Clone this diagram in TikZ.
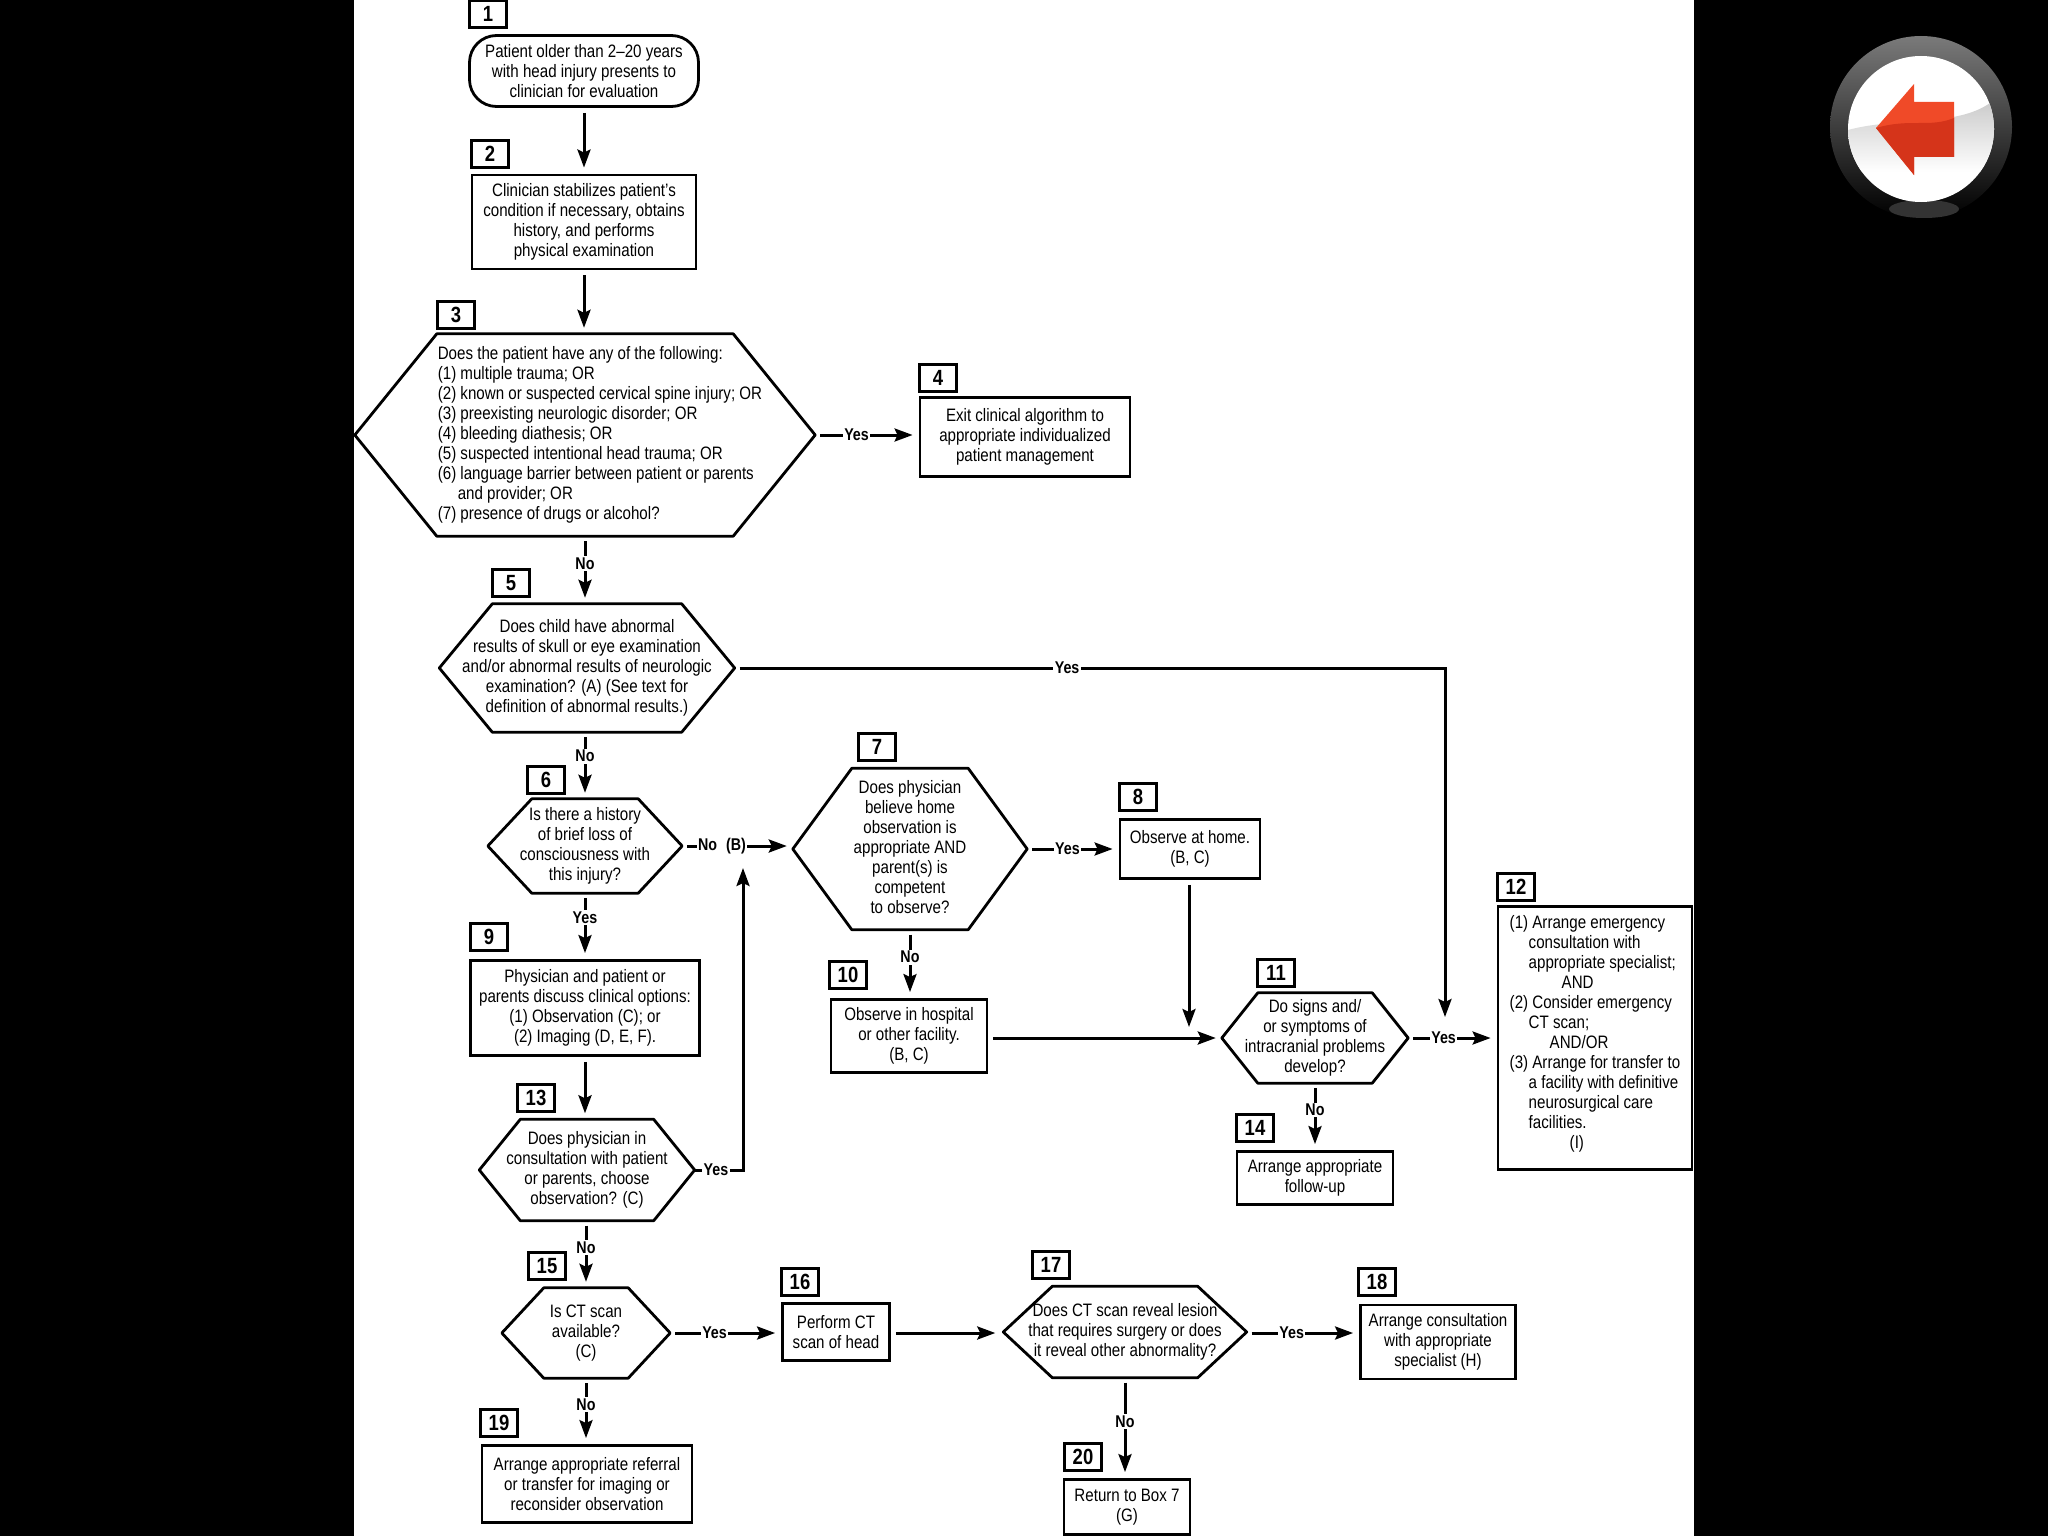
\documentclass[tikz,border=0pt]{standalone}
\usepackage{fontspec}
\setmainfont[FakeStretch=0.84]{Liberation Sans}
\usetikzlibrary{arrows.meta,calc}
\definecolor{btnring}{HTML}{7a7a7a}
\definecolor{btnringmid}{HTML}{505050}
\definecolor{btngloss}{HTML}{cacaca}
\definecolor{btnshadow}{HTML}{333333}
\definecolor{btnarrow}{HTML}{f04a28}
\definecolor{btnarrowlow}{HTML}{d5341a}
\tikzset{
  flowbox/.style={draw,line width=2.8pt,align=center,inner sep=0pt,font=\fontsize{18}{20}\selectfont},
  startbox/.style={flowbox,rounded corners=27pt},
  hexbox/.style={align=center,inner sep=0pt,font=\fontsize{18}{20}\selectfont,
    append after command={\pgfextra{\draw[line width=2.8pt,line join=round]
      ($(\tikzlastnode.north west)+(#1,0)$) -- ($(\tikzlastnode.north east)+(-#1,0)$) --
      (\tikzlastnode.east) -- ($(\tikzlastnode.south east)+(-#1,0)$) --
      ($(\tikzlastnode.south west)+(#1,0)$) -- (\tikzlastnode.west) -- cycle;}}},
  numbox/.style={draw,line width=3pt,fill=white,inner sep=0pt,minimum width=37pt,minimum height=27pt,
    font=\fontsize{22}{22}\selectfont\bfseries},
  flowline/.style={line width=3pt,shorten <=5pt,shorten >=6pt,-{Stealth[length=18pt,width=13pt,inset=3pt]}},
  flowlabel/.style={fill=white,inner sep=1.5pt,pos=.4,font=\fontsize{17}{17}\selectfont\bfseries},
}
\begin{document}
\begin{tikzpicture}[x=1pt,y=-1pt]
  \useasboundingbox (0,0) rectangle (2048,1536);
  \fill[black] (0,0) rectangle (2048,1536);
  \fill[white] (354,0) rectangle (1694,1536);
  % back button
  \shade[top color=btnring,middle color=btnringmid,bottom color=black] (1921,127) circle[radius=91];
  \fill[btnshadow] (1924,209) ellipse[x radius=35,y radius=9];
  \fill[white] (1921,129) circle[radius=73];
  \begin{scope}
    \clip (1921,129) circle[radius=73];
    \shade[top color=btngloss,bottom color=white] (1848,130) .. controls (1900,116) and (1960,128) .. (1994,100) -- (1994,172) -- (1848,172) -- cycle;
  \end{scope}
  \fill[btnarrow] (1876,128) -- (1914,84) -- (1914,102) -- (1954,102) -- (1954,157) -- (1914,157) -- (1914,175) -- cycle;
  \fill[btnarrowlow] (1876,128) -- (1914,175) -- (1914,157) -- (1954,157) -- (1954,118) .. controls (1930,128) and (1910,118) .. (1876,128);
  % boxes of the algorithm
  \node[startbox,minimum width=229pt,minimum height=71pt] (box1) at (584,71) {Patient older than 2--20 years\\with head injury presents to\\clinician for evaluation};
  \node[flowbox,minimum width=224pt,minimum height=94pt] (box2) at (584,222) {Clinician stabilizes patient's\\condition if necessary, obtains\\history, and performs\\physical examination};
  \node[hexbox=82,minimum width=460pt,minimum height=202pt] (hex3) at (585,435) {\begin{tabular}{@{\hspace{30pt}}l@{}}
    Does the patient have any of the following:\\
    (1) multiple trauma; OR\\
    (2) known or suspected cervical spine injury; OR\\
    (3) preexisting neurologic disorder; OR\\
    (4) bleeding diathesis; OR\\
    (5) suspected intentional head trauma; OR\\
    (6) language barrier between patient or parents\\
    \hspace*{20pt}and provider; OR\\
    (7) presence of drugs or alcohol?
  \end{tabular}};
  \node[flowbox,minimum width=210pt,minimum height=79pt] (box4) at (1025,437) {Exit clinical algorithm to\\appropriate individualized\\patient management};
  \node[hexbox=53,minimum width=295pt,minimum height=128pt] (hex5) at (587,668) {Does child have abnormal\\results of skull or eye examination\\and/or abnormal results of neurologic\\examination? (A) (See text for\\definition of abnormal results.)};
  \node[hexbox=44,minimum width=194pt,minimum height=94pt] (hex6) at (585,846) {Is there a history\\of brief loss of\\consciousness with\\this injury?};
  \node[hexbox=59,minimum width=234pt,minimum height=161pt] (hex7) at (910,849) {\raisebox{3pt}{\begin{tabular}{@{}c@{}}Does physician\\believe home\\observation is\\appropriate AND\\parent(s) is\\competent\\to observe?\end{tabular}}};
  \node[flowbox,minimum width=140pt,minimum height=59pt] (box8) at (1190,849) {Observe at home.\\(B, C)};
  \node[flowbox,minimum width=229pt,minimum height=95pt] (box9) at (585,1008) {Physician and patient or\\parents discuss clinical options:\\(1) Observation (C); or\\(2) Imaging (D, E, F).};
  \node[flowbox,minimum width=156pt,minimum height=73pt] (box10) at (909,1036) {Observe in hospital\\or other facility.\\(B, C)};
  \node[hexbox=36,minimum width=186pt,minimum height=90pt] (hex11) at (1315,1038) {Do signs and/\\or symptoms of\\intracranial problems\\develop?};
  \node[flowbox,minimum width=194pt,minimum height=263pt] (box12) at (1595,1038) {\begin{tabular}{@{}l@{}}
    (1) Arrange emergency\\
    \hspace*{19pt}consultation with\\
    \hspace*{19pt}appropriate specialist;\\
    \hspace*{52pt}AND\\
    (2) Consider emergency\\
    \hspace*{19pt}CT scan;\\
    \hspace*{40pt}AND/OR\\
    (3) Arrange for transfer to\\
    \hspace*{19pt}a facility with definitive\\
    \hspace*{19pt}neurosurgical care\\
    \hspace*{19pt}facilities.\\
    \hspace*{60pt}(I)\\[8pt]
  \end{tabular}};
  \node[hexbox=41,minimum width=215pt,minimum height=101pt] (hex13) at (587,1170) {Does physician in\\consultation with patient\\or parents, choose\\observation? (C)};
  \node[flowbox,minimum width=156pt,minimum height=53pt] (box14) at (1315,1178) {Arrange appropriate\\follow-up};
  \node[hexbox=42,minimum width=168pt,minimum height=90pt] (hex15) at (586,1333) {Is CT scan\\available?\\(C)};
  \node[flowbox,minimum width=107pt,minimum height=57pt] (box16) at (836,1332) {Perform CT\\scan of head};
  \node[hexbox=49,minimum width=243pt,minimum height=91pt] (hex17) at (1125,1332) {Does CT scan reveal lesion\\that requires surgery or does\\it reveal other abnormality?};
  \node[flowbox,minimum width=155pt,minimum height=74pt] (box18) at (1438,1342) {Arrange consultation\\with appropriate\\specialist (H)};
  \node[flowbox,minimum width=210pt,minimum height=77pt] (box19) at (587,1484) {Arrange appropriate referral\\or transfer for imaging or\\reconsider observation};
  \node[flowbox,minimum width=126pt,minimum height=55pt] (box20) at (1127,1507) {Return to Box 7\\(G)};
  % number tags
  \node[numbox] (tag1) at (488,14) {1};
  \node[numbox] (tag2) at (490,154) {2};
  \node[numbox] (tag3) at (456,315) {3};
  \node[numbox] (tag4) at (938,378) {4};
  \node[numbox] (tag5) at (511,583) {5};
  \node[numbox] (tag6) at (546,780) {6};
  \node[numbox] (tag7) at (877,747) {7};
  \node[numbox] (tag8) at (1138,797) {8};
  \node[numbox] (tag9) at (489,937) {9};
  \node[numbox] (tag10) at (848,975) {10};
  \node[numbox] (tag11) at (1276,973) {11};
  \node[numbox] (tag12) at (1516,887) {12};
  \node[numbox] (tag13) at (536,1098) {13};
  \node[numbox] (tag14) at (1255,1128) {14};
  \node[numbox] (tag15) at (547,1266) {15};
  \node[numbox] (tag16) at (800,1282) {16};
  \node[numbox] (tag17) at (1051,1265) {17};
  \node[numbox] (tag18) at (1377,1282) {18};
  \node[numbox] (tag19) at (499,1423) {19};
  \node[numbox] (tag20) at (1083,1457) {20};
  % free ends
  \coordinate (join12) at (1445,1023);
  \coordinate (join11) at (1189,1033);
  \coordinate (join7) at (743,862);
  % connectors
  \draw[flowline] (box1.south) -- (box1.south |- box2.north);
  \draw[flowline] (box2.south) -- (box2.south |- hex3.north);
  \draw[flowline] (hex3.east) -- node[flowlabel] {Yes} (hex3.east -| box4.west);
  \draw[flowline] (hex3.south) -- node[flowlabel] {No} (hex3.south |- hex5.north);
  \draw[flowline] (hex5.east) -| node[flowlabel,pos=.234] {Yes} (join12);
  \draw[flowline] (hex6.north |- hex5.south) -- node[flowlabel,pos=.36] {No} (hex6.north);
  \draw[flowline] (hex6.east) -- node[flowlabel,pos=.36] {No\hspace{9pt}(B)} (hex6.east -| hex7.west);
  \draw[flowline] (hex7.east) -- node[flowlabel,pos=.44] {Yes} (hex7.east -| box8.west);
  \draw[flowline] (hex7.south) -- node[flowlabel] {No} (hex7.south |- box10.north);
  \draw[flowline] (box8.south -| join11) -- (join11);
  \draw[flowline] (box10.east |- hex11.west) -- (hex11.west);
  \draw[flowline] (hex11.east) -- node[flowlabel] {Yes} (hex11.east -| box12.west);
  \draw[flowline] (hex11.south) -- node[flowlabel] {No} (box14.north);
  \draw[flowline] (hex6.south) -- node[flowlabel,pos=.37] {Yes} (hex6.south |- box9.north);
  \draw[flowline] (box9.south) -- (box9.south |- hex13.north);
  \draw[flowline,shorten <=0pt] (hex13.east) -| node[flowlabel,pos=.22] {Yes} (join7);
  \draw[flowline] (hex15.north |- hex13.south) -- node[flowlabel] {No} (hex15.north);
  \draw[flowline] (hex15.east) -- node[flowlabel] {Yes} (hex15.east -| box16.west);
  \draw[flowline] (hex15.south) -- node[flowlabel] {No} (hex15.south |- box19.north);
  \draw[flowline,shorten >=8pt] (box16.east |- hex15.east) -- (hex15.east -| hex17.west);
  \draw[flowline] (hex17.east |- hex15.east) -- node[flowlabel] {Yes} (hex15.east -| box18.west);
  \draw[flowline] (hex17.south) -- node[flowlabel,pos=.44] {No} (hex17.south |- box20.north);
\end{tikzpicture}
\end{document}
